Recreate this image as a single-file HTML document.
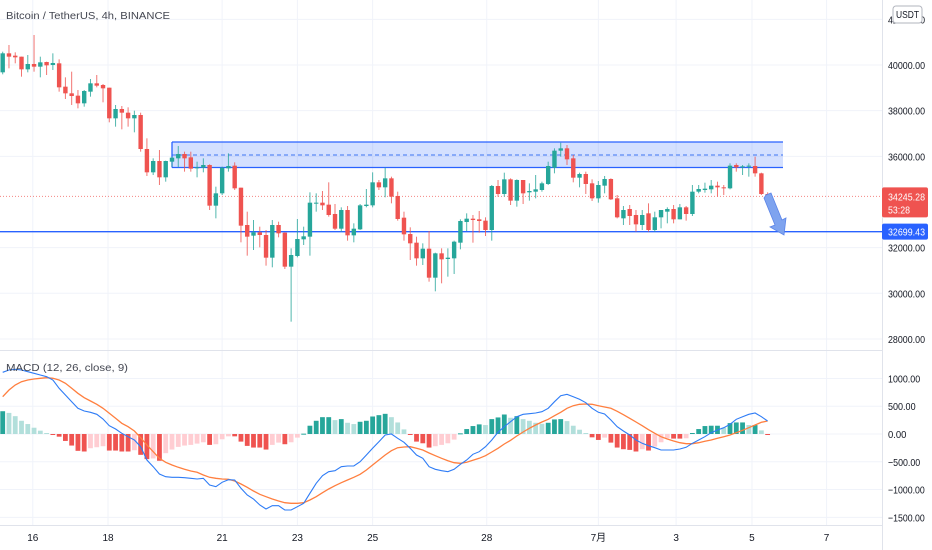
<!DOCTYPE html>
<html><head><meta charset="utf-8">
<style>
html,body{margin:0;padding:0;background:#fff;}
body{width:932px;height:550px;overflow:hidden;font-family:"Liberation Sans",sans-serif;}
svg{display:block}
text{font-family:"Liberation Sans",sans-serif;fill:#131722;}
</style></head><body>
<svg id="chart" width="932" height="550" viewBox="0 0 932 550" xmlns="http://www.w3.org/2000/svg">
<g id="grid"></g>
<g id="overlay-back"></g>
<g id="candles"></g>
<g id="macd"></g>
<g id="axes"></g>
</svg>
<script>
const opens=[39679,40511,40409,40365,39810,40044,39927,40131,40000,40073,39051,38759,38657,38321,38832,39197,39124,39007,37664,38073,37912,37664,37810,36321,35299,35795,35080,35766,35912,36102,35956,35474,35503,35620,33839,34379,35474,35591,34627,32992,32525,32671,32554,31561,32992,32656,31167,31634,32364,32481,33941,
33970,33883,33474,32831,33649,32539,32802,33824,33853,34861,34642,35036,34262,33313,32598,32218,31532,31955,30685,31751,31503,31532,32218,33123,33269,33240,33182,32773,34700,34350,34992,34058,34963,34423,34452,34525,34788,35503,36248,36350,35912,35065,35226,34817,34160,34715,35007,34160,
33284,33693,33430,32992,33503,32773,33328,33576,33693,33240,33766,33474,34452,34525,34554,34715,34642,34598,35620,35533,35562,35576,35255,34350];
const highs=[40584,40876,40555,40365,40438,41314,40365,40146,40511,40248,39460,39708,38905,38905,39387,39562,39168,39007,38248,38204,38146,38000,37912,36788,35912,36277,35810,35985,36452,36204,36204,35766,35912,35649,34671,35547,36131,35737,34627,33576,33211,32919,32773,33211,33138,32671,31970,33255,32919,34423,34379,
34481,34861,33912,33766,33824,33065,33912,34569,35299,34963,35503,35109,34452,33576,32890,32481,32189,32729,31780,31970,31970,32306,33240,33503,33430,33605,33328,34744,34963,35284,35036,34992,34963,34817,35182,34890,35766,36350,36598,36496,36058,35284,35328,34992,34919,35138,35036,34306,
33824,33868,33649,33649,33941,33576,33649,33766,33868,33912,33824,34744,34744,34846,34963,34890,34744,35693,35693,35620,35693,35985,35284,34423];
const lows=[39591,39854,40073,39489,39679,39708,39460,39562,39781,38832,38511,38248,38102,38175,38613,39022,38365,37489,37299,37182,37299,37051,36204,35138,35182,34744,34890,35547,35518,35328,35328,35080,35299,33649,33284,34306,35328,34525,32233,31649,31897,32014,31211,31138,32452,31065,28758,31576,32116,31649,33576,
33649,33357,32773,32700,32306,32233,32773,33766,33766,34525,34204,33941,33182,32306,31459,31211,31240,30510,30087,30437,30729,30846,31926,32729,32218,32656,32510,32306,34233,34233,33868,33795,33912,34058,34160,34452,34744,35255,35985,35620,34861,34642,34350,34043,33970,34379,34087,33284,
32992,32992,32700,32773,32700,32700,32846,33065,33065,33240,33182,33386,34379,34408,34379,34233,34306,34554,35328,35182,35109,35109,34306,33970];
const closes=[40511,40365,40336,39810,40044,39927,40117,39985,40088,39022,38759,38642,38321,38861,39197,39095,38978,37664,38073,37912,37664,37810,36321,35299,35795,35080,35795,35941,36102,35912,35460,35518,35620,33839,34379,35503,35577,34598,32963,32481,32671,32554,31561,32992,32627,31167,31678,32379,32496,33970,33970,
33853,33430,32831,33649,32539,32831,33853,33883,34861,34642,35036,34233,33255,32583,32189,31532,31955,30685,31751,31488,31561,32262,33167,33269,33211,33167,32773,34700,34350,34992,34058,34963,34379,34481,34554,34817,35576,36248,36350,35868,35065,35226,34788,34160,34744,35007,34116,33328,
33649,33386,33021,33430,32773,33328,33649,33693,33240,33766,33474,34452,34569,34583,34715,34642,34598,35591,35518,35562,35591,35255,34350,34233];
const macdLine=[1110,1152,1164,1152,1122,1092,1062,1032,972,822,702,582,462,414,390,354,270,150,90,12,-48,-108,-228,-468,-588,-720,-768,-780,-780,-786,-798,-810,-798,-918,-948,-870,-822,-828,-978,-1098,-1170,-1278,-1350,-1290,-1290,-1368,-1368,-1308,-1248,-1068,-888,-750,-678,-660,-588,-576,-576,-498,-378,-258,-138,-18,0,-78,
-150,-258,-378,-438,-588,-636,-660,-678,-636,-546,-468,-366,-318,-228,-108,30,132,222,312,354,366,378,402,462,582,690,714,672,624,564,462,390,360,252,132,54,-18,-108,-168,-210,-246,-288,-288,-288,-270,-240,-168,-108,-48,24,72,114,174,264,312,354,378,312,234];
const signalLine=[672,792,882,942,972,990,1002,1014,1002,972,912,822,732,654,594,534,462,372,282,192,132,54,-66,-198,-318,-438,-510,-558,-600,-636,-666,-690,-738,-780,-798,-810,-816,-846,-900,-960,-1026,-1086,-1128,-1170,-1206,-1236,-1248,-1248,-1236,-1188,-1128,-1056,-990,-930,-876,-828,-780,-726,-648,-558,-468,-378,-300,-246,
-234,-228,-258,-288,-342,-390,-438,-480,-516,-528,-510,-474,-438,-390,-324,-258,-180,-114,-36,36,102,162,216,264,330,390,462,510,534,540,534,510,486,462,408,348,282,216,150,78,12,-48,-90,-126,-156,-174,-174,-156,-132,-108,-78,-48,-18,24,66,114,162,210,234];
const histValues=[410,380,321,238,179,113,60,18,-18,-48,-125,-208,-303,-315,-256,-238,-220,-298,-298,-315,-315,-292,-375,-452,-440,-482,-345,-280,-232,-208,-196,-173,-149,-196,-184,-95,-42,-42,-137,-214,-244,-244,-280,-196,-155,-184,-149,-65,6,149,238,303,303,250,268,202,179,220,238,315,339,363,303,208,
83,-18,-137,-167,-244,-220,-196,-167,-101,12,89,143,173,161,268,298,351,292,321,268,238,202,184,202,262,268,232,149,77,18,-60,-107,-65,-155,-244,-274,-286,-315,-274,-298,-226,-149,-77,-83,-83,-77,18,89,143,149,149,113,196,208,208,161,161,65,-18];
const priceTicks=[42000,40000,38000,36000,32000,30000,28000];
const macdTicks=[1000,500,0,-500,-1000,-1500];
const timeLabels=["16","18","21","23","25","28","7月","3","5","7"];
const timeLabelCandle=[4.8,16.8,35,47,59,77.2,95,107.4,119.5,131.4];
const zoneTop=36627, zoneBottom=35510, zoneMid=36058;
const supportLevel=32699.43, lastPrice=34245.28;

const NS="http://www.w3.org/2000/svg";
const X0=2.7, STEP=6.27;
const xAt=i=>X0+i*STEP;
const yP=p=>65+(40000-p)/43.8;
const yM=v=>434-v/18;
function mk(tag,attrs,parent){const e=document.createElementNS(NS,tag);for(const k in attrs)e.setAttribute(k,attrs[k]);parent.appendChild(e);return e;}
const G=document.getElementById('grid'),OB=document.getElementById('overlay-back'),C=document.getElementById('candles'),M=document.getElementById('macd'),A=document.getElementById('axes');

priceTicks.forEach(p=>{const l=mk('line',{x1:0,x2:882,y1:yP(p),y2:yP(p),stroke:'#f0f3fa','stroke-width':1},G);

});
macdTicks.forEach(v=>{const l=mk('line',{x1:0,x2:882,y1:yM(v),y2:yM(v),stroke:'#f0f3fa','stroke-width':1},G);

});
timeLabelCandle.forEach(c=>{const l=mk('line',{x1:xAt(c),x2:xAt(c),y1:0,y2:525,stroke:'#f0f3fa','stroke-width':1},G);

});

const zr=mk('rect',{x:172,y:yP(zoneTop),width:611,height:yP(zoneBottom)-yP(zoneTop),fill:'rgba(41,98,255,0.2)'},OB);


[zoneTop,zoneBottom].forEach(p=>{const l=mk('line',{x1:172,x2:783,y1:yP(p),y2:yP(p),stroke:'#2962ff','stroke-width':1.3},OB);

});
const zm=mk('line',{x1:172,x2:783,y1:yP(zoneMid),y2:yP(zoneMid),stroke:'#5b8af5','stroke-width':1.3,'stroke-dasharray':'4,3'},OB);


const zl=mk('line',{x1:172,x2:172,y1:yP(zoneTop),y2:yP(zoneBottom),stroke:'#2962ff','stroke-width':1.3},OB);


const sl=mk('line',{x1:0,x2:882,y1:yP(supportLevel),y2:yP(supportLevel),stroke:'#2962ff','stroke-width':1.3},OB);


const pl=mk('line',{x1:0,x2:882,y1:yP(lastPrice),y2:yP(lastPrice),stroke:'#ef5350','stroke-width':1,'stroke-dasharray':'1,2',opacity:0.7},OB);



for(let i=0;i<opens.length;i++){
  const up=closes[i]>=opens[i];const col=up?'#26a69a':'#ef5350';const x=xAt(i);
  const w=mk('line',{x1:x,x2:x,y1:yP(highs[i]),y2:yP(lows[i]),stroke:col,'stroke-width':1,opacity:0.8},C);
  
  
  const t=yP(Math.max(opens[i],closes[i])),b=yP(Math.min(opens[i],closes[i]));
  const r=mk('rect',{x:x-2.2,y:t,width:4.4,height:Math.max(1,b-t),fill:col},C);
  
  
}
const ar=mk('polygon',{points:'766,195 771,193 782,220 786,218 784,235 770,227 775,225 764,198',fill:'#7ea3ef',stroke:'#5b84e8','stroke-width':0.8},C);



for(let i=0;i<histValues.length;i++){
  const v=histValues[i],p=i>0?histValues[i-1]:v;let col;
  if(v>=0)col=v>=p?'#26a69a':'#b2dfdb';else col=v<=p?'#ef5350':'#ffcdd2';
  const y1=yM(Math.max(v,0)),y2=yM(Math.min(v,0));
  const r=mk('rect',{x:xAt(i)-2.4,y:y1,width:4.8,height:Math.max(1,y2-y1),fill:col},M);
  
  
}
const lp=arr=>arr.map((v,i)=>xAt(i).toFixed(1)+','+yM(v).toFixed(1)).join(' ');
const sig=mk('polyline',{points:lp(signalLine),fill:'none',stroke:'#ff7f3f','stroke-width':1.3},M);


const ml=mk('polyline',{points:lp(macdLine),fill:'none',stroke:'#2e7cf6','stroke-width':1.1},M);



mk('line',{x1:882.5,x2:882.5,y1:0,y2:550,stroke:'#e0e3eb'},A);
mk('line',{x1:0,x2:882,y1:350.5,y2:350.5,stroke:'#e0e3eb'},A);
mk('line',{x1:0,x2:882,y1:525.5,y2:525.5,stroke:'#e0e3eb'},A);
priceTicks.forEach(p=>{const t=mk('text',{x:888,y:yP(p)+4,'font-size':10.5,textLength:37,lengthAdjust:'spacingAndGlyphs'},A);t.textContent=p.toFixed(2);

});
macdTicks.forEach(v=>{const s=v<0?'\u2212'+(-v).toFixed(2):v.toFixed(2);const t=mk('text',{x:888,y:yM(v)+4,'font-size':10.5,textLength:s.length*4.6,lengthAdjust:'spacingAndGlyphs'},A);t.textContent=s;

});
timeLabels.forEach((s,k)=>{const t=mk('text',{x:xAt(timeLabelCandle[k]),y:541,'font-size':10,'text-anchor':'middle'},A);t.textContent=s;

});
const lb=mk('rect',{x:882,y:yP(lastPrice)-9,width:46,height:30,fill:'#ef5350',rx:2},A);


let t=mk('text',{x:888,y:yP(lastPrice)+4,'font-size':10.5,textLength:37,lengthAdjust:'spacingAndGlyphs',style:'fill:#fff'},A);t.textContent=lastPrice.toFixed(2);


t=mk('text',{x:888,y:yP(lastPrice)+17,'font-size':10.5,textLength:22,lengthAdjust:'spacingAndGlyphs',style:'fill:#fff'},A);t.textContent='53:28';


const sb=mk('rect',{x:882,y:yP(supportLevel)-8,width:46,height:16,fill:'#2962ff',rx:2},A);


t=mk('text',{x:888,y:yP(supportLevel)+4,'font-size':10.5,textLength:37,lengthAdjust:'spacingAndGlyphs',style:'fill:#fff'},A);t.textContent=supportLevel.toFixed(2);


const ub=mk('rect',{x:893,y:6,width:29,height:17,fill:'#fff',stroke:'#b2b5be',rx:3},A);


t=mk('text',{x:907.5,y:18,'font-size':10,'text-anchor':'middle',textLength:23,lengthAdjust:'spacingAndGlyphs'},A);t.textContent='USDT';


t=mk('text',{x:6,y:19,'font-size':10.5,textLength:164,lengthAdjust:'spacingAndGlyphs',style:'fill:#434651'},A);t.textContent='Bitcoin / TetherUS, 4h, BINANCE';


t=mk('text',{x:6,y:371,'font-size':10.5,textLength:122,lengthAdjust:'spacingAndGlyphs',style:'fill:#434651'},A);t.textContent='MACD (12, 26, close, 9)';


</script>
</body></html>
